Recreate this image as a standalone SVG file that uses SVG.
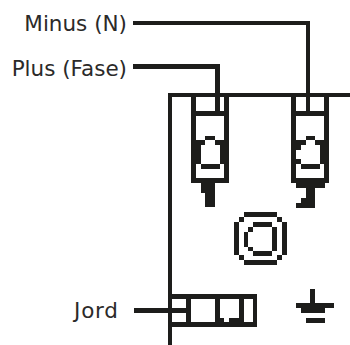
<svg xmlns="http://www.w3.org/2000/svg" width="350" height="345" viewBox="0 0 350 345">
<style>
text{font-family:"DejaVu Sans",sans-serif;font-size:21.5px;fill:#2b2a29;text-anchor:end}
.k{fill:#1d1d1b;shape-rendering:crispEdges}
.w{fill:none;stroke:#1d1d1b;shape-rendering:crispEdges}
</style>
<g id="connectors">
<path class="w" stroke-width="4" d="M133 23H308V111"/>
<path class="w" stroke-width="5" d="M133 66.500H217.500V111"/>
<path class="w" stroke-width="5" d="M134 310H186"/>
</g>
<g id="housing" class="k">
<rect x="168" y="93" width="182" height="4"/>
<rect x="168" y="93" width="4" height="252"/>
</g>
<g id="terminal-plus" class="k">
<rect x="191" y="97" width="5" height="86"/>
<rect x="224" y="97" width="5" height="86"/>
<rect x="191" y="111" width="38" height="5"/>
<rect x="205" y="136" width="10" height="4"/>
<rect x="196" y="140" width="9" height="5"/>
<rect x="215" y="140" width="9" height="5"/>
<rect x="196" y="145" width="5" height="19"/>
<rect x="220" y="145" width="4" height="19"/>
<rect x="201" y="164" width="19" height="5"/>
<rect x="191" y="178" width="38" height="5"/>
<rect x="201" y="183" width="14" height="10"/>
<rect x="205" y="193" width="10" height="14"/>
</g>
<g id="terminal-minus" class="k">
<rect x="291" y="97" width="5" height="86"/>
<rect x="324" y="97" width="5" height="86"/>
<rect x="291" y="111" width="38" height="5"/>
<rect x="306" y="136" width="9" height="4"/>
<rect x="296" y="140" width="10" height="5"/>
<rect x="315" y="140" width="9" height="5"/>
<rect x="296" y="145" width="5" height="5"/>
<rect x="296" y="159" width="5" height="5"/>
<rect x="320" y="145" width="4" height="19"/>
<rect x="301" y="164" width="19" height="5"/>
<rect x="291" y="178" width="38" height="5"/>
<rect x="296" y="183" width="29" height="5"/>
<rect x="306" y="188" width="9" height="10"/>
<rect x="301" y="198" width="14" height="5"/>
<rect x="296" y="203" width="19" height="5"/>
</g>
<g id="socket" class="k">
<rect x="244" y="212" width="33" height="5"/>
<rect x="239" y="217" width="5" height="5"/>
<rect x="277" y="217" width="5" height="5"/>
<rect x="234" y="222" width="5" height="33"/>
<rect x="282" y="222" width="5" height="33"/>
<rect x="239" y="255" width="5" height="5"/>
<rect x="277" y="255" width="5" height="5"/>
<rect x="244" y="260" width="33" height="5"/>
<rect x="253" y="222" width="19" height="5"/>
<rect x="248" y="227" width="5" height="5"/>
<rect x="244" y="232" width="4" height="15"/>
<rect x="248" y="247" width="5" height="4"/>
<rect x="253" y="251" width="19" height="5"/>
<rect x="272" y="227" width="5" height="24"/>
</g>
<g id="terminal-block" class="k">
<rect x="172" y="294" width="85" height="5"/>
<rect x="172" y="322" width="85" height="5"/>
<rect x="253" y="294" width="4" height="33"/>
<rect x="186" y="299" width="5" height="23"/>
<rect x="215" y="299" width="5" height="23"/>
<rect x="239" y="299" width="5" height="23"/>
<rect x="215" y="318" width="9" height="4"/>
<rect x="229" y="318" width="15" height="4"/>
</g>
<g id="earth-symbol" class="k">
<rect x="310" y="289" width="5" height="14"/>
<rect x="296" y="303" width="38" height="5"/>
<rect x="301" y="308" width="24" height="5"/>
<rect x="306" y="318" width="19" height="5"/>
</g>
<g id="labels">
<text x="127" y="31">Minus (N)</text>
<text x="127" y="76">Plus (Fase)</text>
<text x="118.800" y="318" letter-spacing=".8">Jord</text>
</g>
</svg>
